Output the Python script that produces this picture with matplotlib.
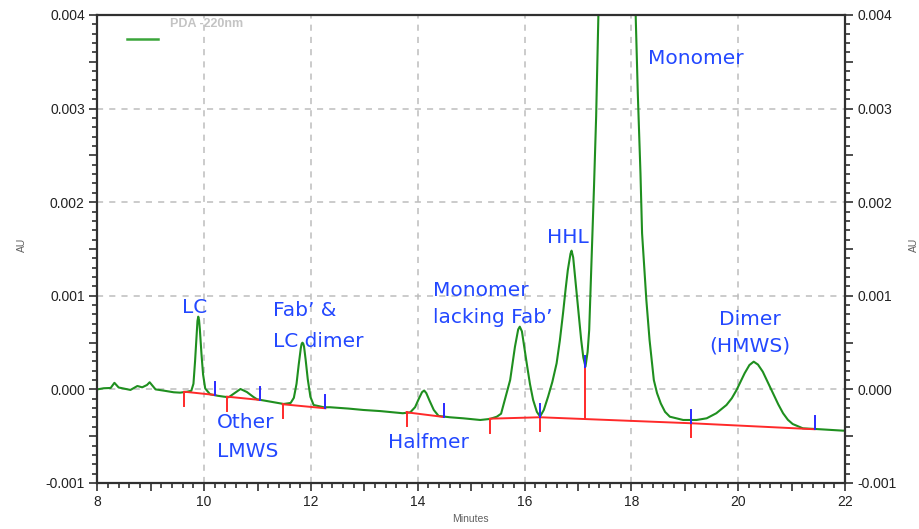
import matplotlib
matplotlib.use("Agg")
import matplotlib.pyplot as plt
from matplotlib.ticker import MultipleLocator, FuncFormatter
from matplotlib.lines import Line2D

plt.rcParams['axes.unicode_minus'] = False

# ---------------- data ----------------
time_min = [8.00, 8.12, 8.25, 8.32, 8.40, 8.62, 8.75, 8.84, 8.93, 8.98, 9.09, 9.25,
            9.43, 9.55, 9.68, 9.76, 9.80, 9.83, 9.86, 9.875, 9.89, 9.905, 9.92, 9.95,
            9.98, 10.02, 10.11, 10.25, 10.37, 10.46, 10.57, 10.68, 10.80, 10.92, 10.99,
            11.24, 11.49, 11.62, 11.68, 11.73, 11.77, 11.81, 11.825, 11.84, 11.855,
            11.87, 11.90, 11.94, 11.99, 12.05, 12.24, 12.36, 12.70, 12.98, 13.30, 13.54,
            13.72, 13.86, 13.95, 14.02, 14.08, 14.12, 14.16, 14.22, 14.30, 14.39, 14.60,
            14.85, 15.17, 15.35, 15.48, 15.56, 15.63, 15.73, 15.82, 15.88, 15.91, 15.95,
            16.04, 16.10, 16.16, 16.23, 16.29, 16.36, 16.44, 16.52, 16.60, 16.66, 16.72,
            16.77, 16.81, 16.86, 16.88, 16.91, 16.97, 17.02, 17.06, 17.10, 17.14, 17.18,
            17.21, 17.25, 17.30, 17.34, 17.38, 17.45, 17.72, 18.00, 18.08, 18.12, 18.17,
            18.20, 18.28, 18.34, 18.42, 18.48, 18.55, 18.63, 18.72, 18.97, 19.22, 19.41,
            19.59, 19.78, 19.88, 19.97, 20.05, 20.12, 20.21, 20.29, 20.37, 20.46, 20.55,
            20.65, 20.75, 20.84, 20.93, 21.02, 21.21, 21.53, 21.96, 22.00]
absorbance = [0.000000, 0.000012, 0.000015, 0.000070, 0.000020, -0.000006, 0.000036,
              0.000022, 0.000047, 0.000076, 0.000000, -0.000014, -0.000031, -0.000035,
              -0.000025, -0.000015, 0.000060, 0.000300, 0.000600, 0.000730, 0.000777,
              0.000740, 0.000640, 0.000380, 0.000160, 0.000010, -0.000052, -0.000068,
              -0.000078, -0.000084, -0.000040, 0.000004, -0.000028, -0.000080, -0.000106,
              -0.000131, -0.000156, -0.000145, -0.000090, 0.000060, 0.000260, 0.000440,
              0.000485, 0.000499, 0.000490, 0.000460, 0.000320, 0.000110, -0.000080,
              -0.000167, -0.000191, -0.000191, -0.000205, -0.000220, -0.000232, -0.000245,
              -0.000255, -0.000245, -0.000190, -0.000100, -0.000030, -0.000012, -0.000040,
              -0.000120, -0.000220, -0.000284, -0.000298, -0.000309, -0.000327, -0.000316,
              -0.000292, -0.000260, -0.000113, 0.000100, 0.000456, 0.000640, 0.000670,
              0.000620, 0.000279, 0.000060, -0.000113, -0.000240, -0.000290, -0.000220,
              -0.000078, 0.000080, 0.000279, 0.000520, 0.000813, 0.001080, 0.001276,
              0.001450, 0.001482, 0.001410, 0.001062, 0.000760, 0.000528, 0.000340,
              0.000243, 0.000400, 0.000635, 0.001311, 0.002166, 0.002914, 0.003982,
              0.005500, 0.012000, 0.005500, 0.004000, 0.003160, 0.002309, 0.001668,
              0.000955, 0.000528, 0.000100, -0.000040, -0.000150, -0.000240, -0.000292,
              -0.000327, -0.000327, -0.000309, -0.000255, -0.000167, -0.000095, -0.000006,
              0.000090, 0.000172, 0.000260, 0.000296, 0.000265, 0.000189, 0.000080,
              -0.000042, -0.000160, -0.000255, -0.000325, -0.000370, -0.000416, -0.000426,
              -0.000441, -0.000441]

# integration baselines (start / end times and levels)
peak_start_t = [9.63, 10.43, 11.47, 13.79, 15.35, 16.29, 19.12]
peak_end_t = [10.21, 11.05, 12.27, 14.49, 16.29, 19.12, 21.43]
base_start_y = [-0.000025, -0.000078, -0.000159, -0.000245, -0.000313, -0.000298, -0.000362]
base_end_y = [-0.000060, -0.000113, -0.000202, -0.000295, -0.000298, -0.000362, -0.000426]
# perpendicular drop between HHL and Monomer
drop_t = [17.13]
drop_base_y = [-0.000316]
drop_top_y = [0.000240]

x_ticks = [8, 10, 12, 14, 16, 18, 20, 22]
y_ticks = [-0.001, 0.000, 0.001, 0.002, 0.003, 0.004]

# annotation labels: (text, x, y, ha)
labels = [("LC", 9.83, 0.000813, "center"),
          ("Fab\u2019 &", 11.285, 0.000784, "left"),
          ("LC dimer", 11.285, 0.000448, "left"),
          ("Other", 10.236, -0.000416, "left"),
          ("LMWS", 10.236, -0.000725, "left"),
          ("Halfmer", 13.438, -0.000629, "left"),
          ("Monomer", 14.286, 0.000998, "left"),
          ("lacking Fab\u2019", 14.286, 0.000704, "left"),
          ("HHL", 16.416, 0.001567, "left"),
          ("Monomer", 18.318, 0.003476, "left"),
          ("Dimer", 20.217, 0.000688, "center"),
          ("(HMWS)", 20.217, 0.000405, "center")]

# ---------------- style ----------------
GREEN = "#1f8f1f"
RED = "#ff2a2a"
BLUE = "#2a2aff"
TXT_BLUE = "#2348ff"
AX_COL = "#303030"
RED_TICK = 0.00015
BLUE_TICK = 0.00014

fig = plt.figure(figsize=(9.19, 5.29), dpi=100)
ax = fig.add_axes([0.1059, 0.0870, 0.8136, 0.8847])

ax.set_xlim(8, 22)
ax.set_ylim(-0.001, 0.004)

# grid (dashed, at labelled values inside the frame)
for gx in x_ticks[1:-1]:
    ax.axvline(gx, color="#bdbdbd", lw=1.1, ls=(0, (4, 4)), zorder=0)
for gy in y_ticks[1:-1]:
    ax.axhline(gy, color="#bdbdbd", lw=1.1, ls=(0, (4, 4)), zorder=0)

# trace
ax.plot(time_min, absorbance, color=GREEN, lw=1.5, zorder=2)

# baselines + markers
for t0, t1, y0, y1 in zip(peak_start_t, peak_end_t, base_start_y, base_end_y):
    ax.plot([t0, t1], [y0, y1], color=RED, lw=1.4, zorder=3)
    ax.plot([t0, t0], [y0, y0 - RED_TICK], color=RED, lw=1.4, zorder=3)
    ax.plot([t1, t1], [y1, y1 + BLUE_TICK], color=BLUE, lw=1.4, zorder=4)
for t, yb, yt in zip(drop_t, drop_base_y, drop_top_y):
    ax.plot([t, t], [yb, yt], color=RED, lw=1.4, zorder=3)
    ax.plot([t, t], [yt, yt + 0.00012], color=BLUE, lw=1.4, zorder=4)

# annotations
for txt, tx, ty, ha in labels:
    ax.text(tx, ty, txt, color=TXT_BLUE, fontsize=14.5, ha=ha, va="baseline",
            family="DejaVu Sans", zorder=5)

# axes styling
for s in ax.spines.values():
    s.set_color(AX_COL)
    s.set_linewidth(1.6)

ax.xaxis.set_major_locator(MultipleLocator(1))
ax.xaxis.set_minor_locator(MultipleLocator(0.2))
ax.yaxis.set_major_locator(MultipleLocator(0.0005))
ax.yaxis.set_minor_locator(MultipleLocator(0.0001))


def xfmt(v, pos):
    r = round(v)
    return str(r) if r in x_ticks and abs(v - r) < 1e-6 else ""


def yfmt(v, pos):
    for t in y_ticks:
        if abs(v - t) < 1e-9:
            s = f"{t:.3f}"
            return "0.000" if s == "-0.000" else s
    return ""


ax.xaxis.set_major_formatter(FuncFormatter(xfmt))
ax.yaxis.set_major_formatter(FuncFormatter(yfmt))

ax.tick_params(which="both", direction="out", color=AX_COL, width=1.2,
               left=True, right=True, top=False, bottom=True,
               labelleft=True, labelright=True)
ax.tick_params(which="major", length=6)
ax.tick_params(which="minor", length=3.5)
ax.tick_params(axis="y", which="major", pad=3)
ax.tick_params(axis="x", which="major", pad=3)
for lab in ax.get_xticklabels() + ax.get_yticklabels():
    lab.set_fontfamily("Liberation Sans")
    lab.set_fontsize(10)
    lab.set_color("#222222")

# axis titles
fig.text(470 / 919, 1 - 519 / 529, "Minutes", fontsize=7.5, color="#606060",
         ha="center", va="center", family="Liberation Sans")
fig.text(22 / 919, 1 - 245 / 529, "AU", fontsize=7.5, color="#606060",
         ha="center", va="center", rotation=90, family="Liberation Sans")
fig.text(914 / 919, 1 - 245 / 529, "AU", fontsize=7.5, color="#606060",
         ha="center", va="center", rotation=90, family="Liberation Sans")

# legend-like caption
ax.add_line(Line2D([0.0397, 0.0812], [0.9487, 0.9487], transform=ax.transAxes,
                   color="#3aa53a", lw=1.8, clip_on=False))
ax.text(0.0972, 0.981, "PDA -220nm", transform=ax.transAxes, fontsize=9,
        color="#c4c4c4", ha="left", va="center", family="Liberation Sans",
        fontweight="bold")

fig.savefig("out.png", dpi=100)
